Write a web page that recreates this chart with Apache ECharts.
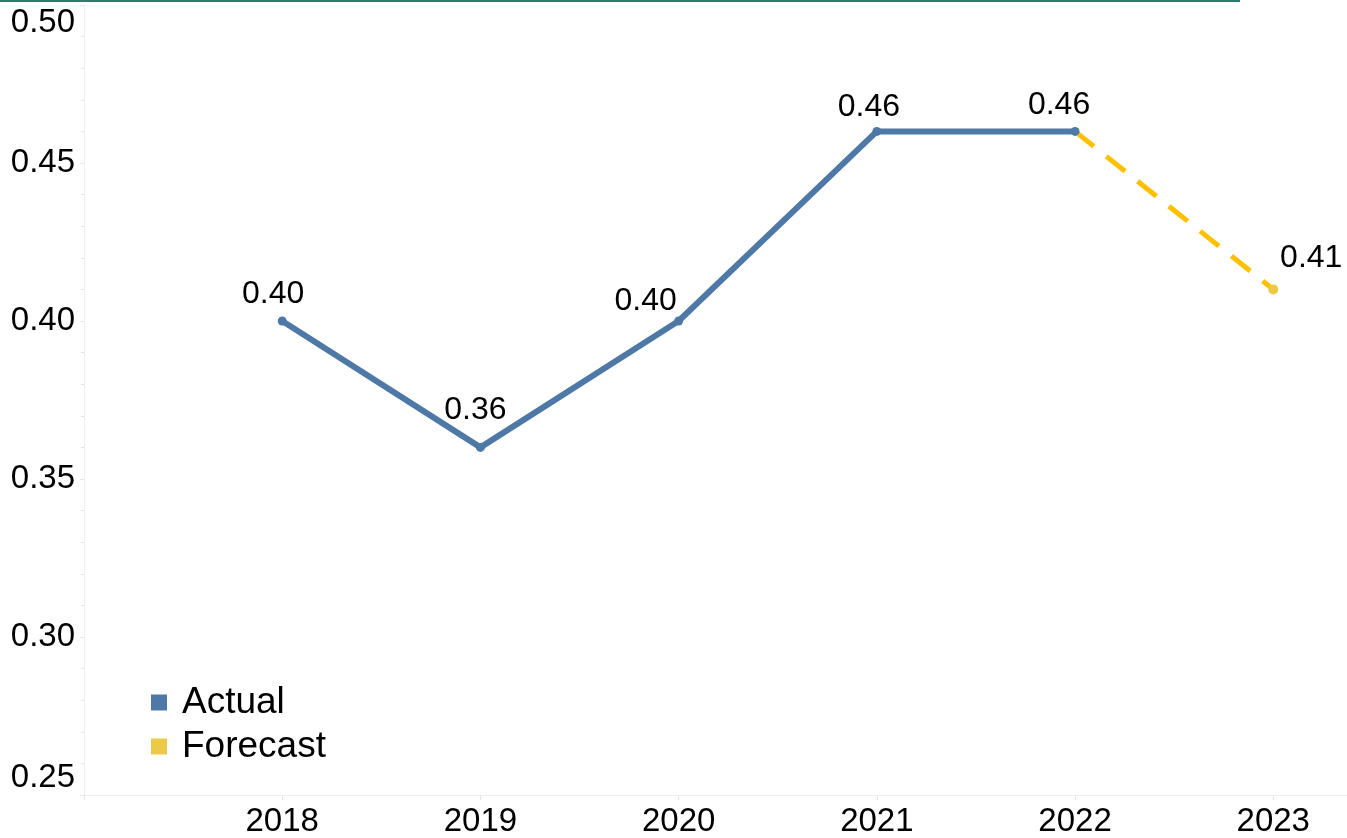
<!DOCTYPE html>
<html>
<head>
<meta charset="utf-8">
<script src="https://cdn.jsdelivr.net/npm/echarts@6/dist/echarts.min.js"></script>
<style>
  html, body { margin: 0; padding: 0; background: #ffffff; }
  #chart { width: 1347px; height: 838px; }
</style>
</head>
<body>
<div id="chart"></div>
<script>
// ---- data ----
const actualYears = [2018, 2019, 2020, 2021, 2022];
const actualValues = [0.40, 0.36, 0.40, 0.46, 0.46];
const forecastYears = [2022, 2023];
const forecastValues = [0.46, 0.41];
const yTicks = [0.25, 0.30, 0.35, 0.40, 0.45, 0.50];
const seriesNames = ['Actual', 'Forecast'];

// ---- styling (kept out of data) ----
const FONT = 'Liberation Sans, Arial, sans-serif';
const BLUE = '#4e79a7';
const GOLD_LINE = '#ffc000';
const GOLD_MARK = '#edc948';
const actualLabelOffsets = [[-9, -1], [-5, -12], [-33, 6], [-8, 1], [-16, -1]];
const forecastLabelOffset = [38, -5];

const actualData = actualYears.map((y, i) => ({
  value: [y, actualValues[i]],
  label: { offset: actualLabelOffsets[i] }
}));
const forecastData = forecastYears.map((y, i) => ({
  value: [y, forecastValues[i]],
  symbolSize: i === 0 ? 0 : 10,
  label: i === 0 ? { show: false } : { show: true, offset: forecastLabelOffset }
}));

const chart = echarts.init(document.getElementById('chart'), null, { renderer: 'canvas' });
chart.setOption({
  animation: false,
  backgroundColor: '#ffffff',
  grid: { left: 84, right: 0, top: 5, bottom: 43, containLabel: false },
  xAxis: {
    type: 'value',
    min: 2017,
    max: 2023.372,
    interval: 1,
    axisLine: { show: true, lineStyle: { color: '#efefef', width: 1 } },
    axisTick: { show: true, length: 5, lineStyle: { color: '#e6e6e6' } },
    splitLine: { show: false },
    axisLabel: {
      color: '#000',
      fontFamily: FONT,
      fontSize: 33,
      margin: 10,
      showMaxLabel: false,
      formatter: v => (Number.isInteger(v) && v > 2017) ? String(v) : ''
    }
  },
  yAxis: {
    type: 'value',
    min: yTicks[0],
    max: yTicks[yTicks.length - 1],
    interval: 0.05,
    axisLine: { show: true, lineStyle: { color: '#efefef', width: 1 } },
    axisTick: { show: true, length: 4, lineStyle: { color: '#e6e6e6' } },
    minorTick: { show: true, splitNumber: 5, length: 3, lineStyle: { color: '#e6e6e6' } },
    splitLine: { show: false },
    axisLabel: {
      color: '#000',
      fontFamily: FONT,
      fontSize: 33,
      margin: 9,
      formatter: v => {
        const s = v.toFixed(2);
        if (Math.abs(v - yTicks[yTicks.length - 1]) < 1e-9) return '{top|' + s + '}';
        if (Math.abs(v - yTicks[0]) < 1e-9) return '{bot|' + s + '}';
        return s;
      },
      rich: {
        top: { fontSize: 33, fontFamily: FONT, color: '#000', padding: [36, 0, 0, 0] },
        bot: { fontSize: 33, fontFamily: FONT, color: '#000', padding: [0, 0, 35, 0] }
      }
    }
  },
  legend: {
    orient: 'vertical',
    left: 146,
    top: 679,
    icon: 'rect',
    itemWidth: 16,
    itemHeight: 16,
    itemGap: 7,
    textStyle: { color: '#000', fontFamily: FONT, fontSize: 37, padding: [0, 0, 0, 10] },
    data: [
      { name: seriesNames[0], itemStyle: { color: BLUE } },
      { name: seriesNames[1], itemStyle: { color: GOLD_MARK } }
    ]
  },
  graphic: [
    { type: 'rect', left: 0, top: 0, shape: { width: 1240, height: 2 }, style: { fill: '#2e7b72' }, silent: true }
  ],
  series: [
    {
      name: seriesNames[0],
      type: 'line',
      data: actualData,
      symbol: 'circle',
      symbolSize: 9,
      lineStyle: { color: BLUE, width: 6 },
      itemStyle: { color: BLUE },
      label: {
        show: true,
        position: 'top',
        color: '#000',
        fontFamily: FONT,
        fontSize: 32,
        formatter: p => p.value[1].toFixed(2)
      },
      z: 3
    },
    {
      name: seriesNames[1],
      type: 'line',
      data: forecastData,
      symbol: 'circle',
      lineStyle: { color: GOLD_LINE, width: 5, type: [24, 16] },
      itemStyle: { color: GOLD_MARK },
      label: {
        show: true,
        position: 'top',
        color: '#000',
        fontFamily: FONT,
        fontSize: 32,
        formatter: p => p.value[1].toFixed(2)
      },
      z: 2
    }
  ]
});
</script>
</body>
</html>
